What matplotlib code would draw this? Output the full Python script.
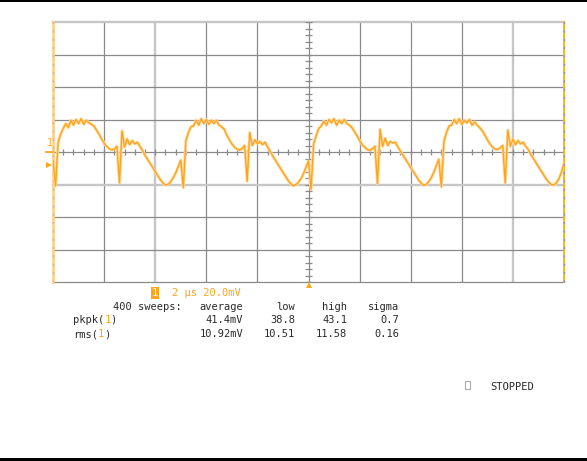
import numpy as np
import matplotlib.pyplot as plt
from matplotlib.patches import Rectangle

W, H = 587, 461

# scope settings
time_per_div_us = 2.0
mv_per_div = 20.0
n_xdiv = 10
n_ydiv = 8
t_start_us = -10.0
sample_step_us = 0.1

# trace, mV, one value per 0.1 us from -10 us
trace_mv = [
    -5,
    # cycle 1
    -21, 6, 11, 14.5, 17.5, 15, 19.5, 16.5, 20, 17.5,
    20.5, 17, 19.5, 18, 17, 16, 13.5, 11, 8, 5.5,
    3.5, 2, 1.2, 1.8, 3.5, -19, 13, 3, 8, 4.5,
    7, 5, 6, 3.5, 1, -2, -4.5, -7, -9.5, -12,
    -14.5, -17, -19, -20.3, -20, -18.5, -16, -13, -9, -5,
    # cycle 2
    -22, 7, 12, 15.5, 16, 19.5, 16.5, 20.5, 17.5, 20,
    17, 19.5, 17.5, 19.5, 16.5, 15.5, 14, 10.5, 7.5, 5,
    3, 1.8, 1, 2.2, 4, -18, 12, 4, 7.5, 5,
    6.5, 4.5, 6, 3, 0.5, -2.5, -5, -7.5, -10, -12.5,
    -15, -17.5, -19.5, -20.8, -20.2, -18.8, -16.5, -13.5, -9.5, -5.5,
    # cycle 3
    -23, 5, 10, 14.5, 16, 19, 16.5, 20, 18, 20.5,
    16.5, 19.5, 17.5, 20, 17.5, 16.5, 15, 12.5, 10, 7,
    4.5, 3, 1.5, 1, 2, 3.5, -19.5, 14, 3.5, 8.5,
    4, 6.5, 5.5, 6, 3, 0.5, -2, -4.5, -7, -9.5,
    -12, -14.5, -17, -19, -20.5, -20, -18.5, -16, -12.5, -8.5, -4.5,
    # cycle 4
    -21.5, 6.5, 12, 16, 16.5, 20, 17.5, 20.5, 17, 19.5,
    18, 20, 16.5, 18.5, 16.5, 15, 13, 10.5, 7.5, 5,
    3, 1.8, 1.5, 2.5, 4, -19, 13.5, 3.5, 8, 4.5,
    7, 5, 6, 3.5, 1.5, -1.5, -4, -6.5, -9, -11.5,
    -14, -16.5, -18.5, -20, -20.3, -19, -16.5, -12.5, -7,
]

# measurement table
stat_headers = ["average", "low", "high", "sigma"]
pkpk_values = ["41.4mV", "38.8", "43.1", "0.7"]
rms_values = ["10.92mV", "10.51", "11.58", "0.16"]
n_sweeps = 400
timebase_label = "2 µs 20.0mV"

ORANGE = "#FFA41C"
LIGHT_ORANGE = "#FFDCA4"
EDGE_ORANGE = "#FFCF86"
GRID = "#8A8A8A"
GRID_LIGHT = "#C6C6C6"
TEXT = "#2a2a2a"
MONO = "DejaVu Sans Mono"

fig = plt.figure(figsize=(W / 100, H / 100), dpi=100)
fig.patch.set_facecolor("white")


def fx(x):
    return x / W


def fy(y):
    return 1 - y / H


# black bars top and bottom
fig.patches.append(Rectangle((0, fy(2.5)), 1, 2.5 / H, transform=fig.transFigure,
                             facecolor="black", edgecolor="none"))
fig.patches.append(Rectangle((0, 0), 1, 3 / H, transform=fig.transFigure,
                             facecolor="black", edgecolor="none"))

ax = fig.add_axes([fx(53), fy(282), 511 / W, 260 / H])
half_t = n_xdiv / 2 * time_per_div_us
half_v = n_ydiv / 2 * mv_per_div
ax.set_xlim(-half_t, half_t)
ax.set_ylim(-half_v, half_v)
ax.axis("off")

# grid
for k in range(-n_xdiv // 2 + 1, n_xdiv // 2):
    t = k * time_per_div_us
    if t in (-6, 8):
        ax.axvline(t, color=GRID_LIGHT, lw=1.7, zorder=1)
    else:
        ax.axvline(t, color=GRID, lw=0.9, zorder=1)
for k in range(-n_ydiv // 2, n_ydiv // 2 + 1):
    v = k * mv_per_div
    if v in (-20, 80):
        ax.axhline(v, color=GRID_LIGHT, lw=1.7, zorder=1, clip_on=False)
    else:
        ax.axhline(v, color=GRID, lw=0.9, zorder=1, clip_on=False)

# edges
ax.axvline(-half_t, color=EDGE_ORANGE, lw=1.9, zorder=2, clip_on=False)
ax.axvline(-half_t, color="#B4BCD0", lw=1.0, ls=(0, (1.5, 4.5)), zorder=2, clip_on=False)
ax.axvline(half_t, color="#FFB020", lw=1.4, zorder=2, clip_on=False)
ax.axvline(half_t, color="#9090A0", lw=1.0, ls=(0, (1.5, 4.5)), zorder=2, clip_on=False)

# minor ticks on the centre lines
xt = np.arange(-half_t, half_t + 0.01, time_per_div_us / 5)
ax.vlines(xt, -1.9, 1.9, color=GRID, lw=0.9, zorder=1)
yt = np.arange(-half_v, half_v + 0.01, mv_per_div / 5)
ax.hlines(yt, -0.14, 0.14, color=GRID, lw=0.9, zorder=1)

# trace
t_us = t_start_us + sample_step_us * np.arange(len(trace_mv))
ax.plot(t_us, trace_mv, color=LIGHT_ORANGE, lw=2.2, zorder=3)
ax.plot(t_us, trace_mv, color=ORANGE, lw=1.0, zorder=4)

# channel / trigger markers
ax.plot([-half_t - 0.28, -half_t], [0, 0], color=ORANGE, lw=1.3, clip_on=False)
ax.text(-half_t - 0.12, 5.5, "1", color=ORANGE, fontsize=7, family=MONO,
        ha="center", va="center", clip_on=False)
ax.plot([-half_t - 0.17], [-8], marker=">", ms=4.5, color=ORANGE, clip_on=False,
        markeredgewidth=0)
ax.plot([0], [-half_v - 1.9], marker="^", ms=4.5, color=ORANGE, clip_on=False,
        markeredgewidth=0)

# readout text
fs = 7.5
char_w = fs / 72 * 100 * 0.602
fig.text(fx(155), fy(293), "1", color="white", fontsize=fs, family=MONO,
         ha="center", va="center",
         bbox=dict(facecolor=ORANGE, edgecolor="none", pad=0.6))
fig.text(fx(172), fy(293), timebase_label, color=ORANGE, fontsize=fs,
         family=MONO, ha="left", va="center")

col_right = [243, 295, 347, 399]
fig.text(fx(113), fy(307), f"{n_sweeps} sweeps:", color=TEXT, fontsize=fs,
         family=MONO, ha="left", va="center")
for x, s in zip(col_right, stat_headers):
    fig.text(fx(x), fy(307), s, color=TEXT, fontsize=fs, family=MONO,
             ha="right", va="center")

for y, name, vals in [(320, "pkpk", pkpk_values), (334, "rms", rms_values)]:
    x0 = 73
    fig.text(fx(x0), fy(y), name + "(", color=TEXT, fontsize=fs,
             family=MONO, ha="left", va="center")
    x1 = x0 + char_w * (len(name) + 1)
    fig.text(fx(x1), fy(y), "1", color=ORANGE, fontsize=fs, family=MONO,
             ha="left", va="center")
    fig.text(fx(x1 + char_w), fy(y), ")", color=TEXT, fontsize=fs,
             family=MONO, ha="left", va="center")
    for x, s in zip(col_right, vals):
        fig.text(fx(x), fy(y), s, color=TEXT, fontsize=fs, family=MONO,
                 ha="right", va="center")

fig.patches.append(Rectangle((fx(465), fy(389)), 5 / W, 8 / H,
                             transform=fig.transFigure, facecolor="none",
                             edgecolor="#A8A8A8", lw=0.8))
fig.text(fx(490), fy(387), "STOPPED", color=TEXT, fontsize=fs, family=MONO,
         ha="left", va="center")

fig.savefig("out.png", dpi=100, facecolor="white")
